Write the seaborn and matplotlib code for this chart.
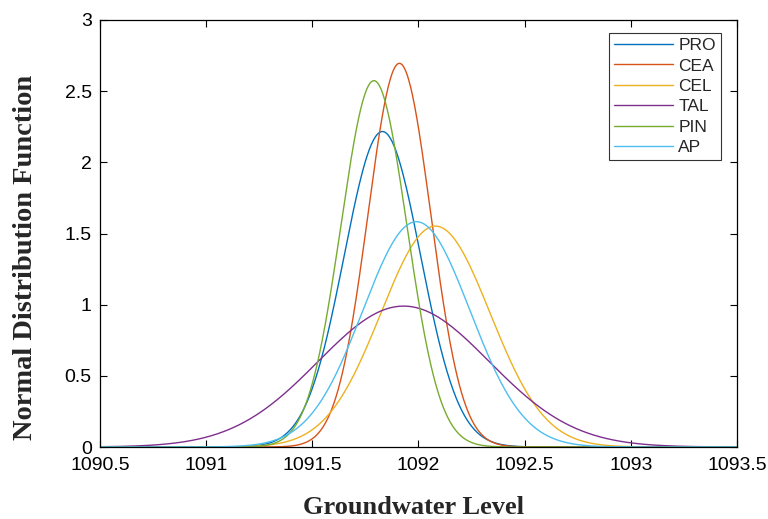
import numpy as np
import pandas as pd
import matplotlib.pyplot as plt
import seaborn as sns

# fitted normal parameters (mean, std)
series = ["PRO", "CEA", "CEL", "TAL", "PIN", "AP"]
means = [1091.83, 1091.91, 1092.08, 1091.93, 1091.79, 1091.99]
stds = [0.180, 0.148, 0.257, 0.403, 0.155, 0.252]
colors = ["#0072BD", "#D95319", "#EDB120", "#7E2F8E", "#77AC30", "#4DBEEE"]

x = np.linspace(1090.5, 1093.5, 600)
rows = []
for name, m, s in zip(series, means, stds):
    y = np.exp(-0.5 * ((x - m) / s) ** 2) / (s * np.sqrt(2 * np.pi))
    rows.append(pd.DataFrame({"level": x, "pdf": y, "name": name}))
df = pd.concat(rows)

sns.set_style("white")
plt.rcParams['font.family'] = ['Liberation Sans', 'DejaVu Sans']

fig = plt.figure(figsize=(7.68, 5.19), dpi=100)
ax = fig.add_axes([100 / 768, 72 / 519, 637 / 768, 427 / 519])
sns.lineplot(data=df, x="level", y="pdf", hue="name", hue_order=series,
             palette=colors, linewidth=1.0, ax=ax)

ax.set_xlim(1090.5, 1093.5)
ax.set_ylim(0, 3)
ax.set_xticks(np.arange(1090.5, 1093.51, 0.5))
ax.set_xticklabels(["1090.5", "1091", "1091.5", "1092", "1092.5", "1093", "1093.5"])
ax.set_yticks([0, 0.5, 1, 1.5, 2, 2.5, 3])
ax.set_yticklabels(["0", "0.5", "1", "1.5", "2", "2.5", "3"])
ax.tick_params(direction="in", length=5, width=0.8, labelsize=14,
               top=True, right=True, bottom=True, left=True, colors="black")
ax.tick_params(axis="x", pad=7)
ax.tick_params(axis="y", pad=6)
for sp in ax.spines.values():
    sp.set_color("black")
    sp.set_linewidth(0.9)

ax.set_xlabel("Groundwater Level", fontfamily="Liberation Serif",
              fontweight="bold", fontsize=19)
ax.set_ylabel("Normal Distribution Function", fontfamily="Liberation Serif",
              fontweight="bold", fontsize=20.5)
ax.xaxis.set_label_coords(0.492, -0.115)
ax.yaxis.set_label_coords(-0.097, 0.445)

leg = ax.legend(loc="upper right", bbox_to_anchor=(0.975, 0.97), frameon=True,
                fancybox=False, edgecolor="black", fontsize=12.5,
                handlelength=3.4, handletextpad=0.3, borderpad=0.3,
                borderaxespad=0, labelspacing=0.3)
leg.get_frame().set_linewidth(0.8)
leg.set_title(None)

fig.savefig("out.png", dpi=100)
